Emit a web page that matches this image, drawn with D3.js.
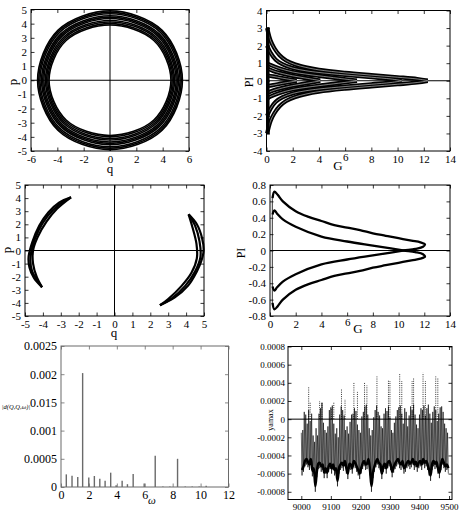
<!DOCTYPE html>
<html lang="en">
<head>
<meta charset="UTF-8">
<title>Phase portraits</title>
<script src="https://cdn.jsdelivr.net/npm/d3@7/dist/d3.min.js"></script>
<style>
    body{ margin:0; background:#fff; }
</style>
</head>
<body>
<svg id="main" width="460" height="510"></svg>
<script>
// ---------- panel 1 : (q,p) rings, one entry per ring (outer -> inner)
const ringQ  = [5.5, 5.41, 5.32, 5.2, 5.11, 5.02, 4.9, 4.81, 4.72, 4.63];
const ringP  = [4.9, 4.8, 4.7, 4.56, 4.46, 4.36, 4.22, 4.12, 4.0, 3.9];
const ringDq = [3.96, 3.9, 3.83, 3.74, 3.68, 3.61, 3.53, 3.46, 3.4, 3.33];
const ringDp = [3.53, 3.46, 3.38, 3.28, 3.21, 3.14, 3.04, 2.97, 2.88, 2.81];
const p1xTicks = [-6,-4,-2,0,2,4,6];
const p1xLabels = ["-6","-4","-2","0","2","4","6"];
const pqTicks = [-5,-4,-3,-2,-1,0,1,2,3,4,5];
const pqLabels = ["-5","-4","-3","-2","-1","0","1","2","3","4","5"];

// ---------- panel 2 : PI vs G, upper branches [G, PI] (lower half is the mirror)
const piBranchA = [[0.05,3.0],[0.3,2.3],[0.6,1.85],[1,1.45],[1.5,1.15],[2.2,0.92],[3,0.76],[4,0.62],[6,0.45],[8,0.32],[10,0.2],[11.5,0.1],[12.3,0.01]];
const piBranchB = [[0.05,2.0],[0.3,1.6],[0.7,1.2],[1.2,0.95],[2,0.72],[3,0.57],[4,0.47],[6,0.33],[8,0.2],[9.5,0.1],[10.3,0.01]];
const piBranchC = [[0.05,1.0],[0.3,0.9],[1,0.7],[2,0.5],[3,0.38],[4,0.28],[5.5,0.14],[6.9,0.01]];
const piBranchD = [[0.05,0.7],[0.5,0.56],[1,0.45],[2,0.28],[3,0.15],[4.1,0.01]];
const piBranchE = [[0.05,0.3],[0.5,0.25],[1.2,0.15],[2.3,0.01]];
const piEdge    = [[0.1,-3.05],[0.1,3.05]];
const gTicks = [0,2,4,6,8,10,12,14];
const gLabels = ["0","2","4","6","8","10","12","14"];
const pi2Ticks = [-4,-3,-2,-1,0,1,2,3,4];
const pi2Labels = ["-4","-3","-2","-1","0","1","2","3","4"];

// ---------- panel 3 : two crescents [q, p]
const crescLeftOuter  = [[-2.43,4.06],[-3.1,3.65],[-3.7,2.9],[-4.2,1.9],[-4.6,0.6],[-4.8,-0.5],[-4.75,-1.3],[-4.5,-2.1],[-4.05,-2.8]];
const crescLeftMid    = [[-2.43,4.06],[-3.15,3.45],[-3.75,2.6],[-4.25,1.5],[-4.6,0.2],[-4.7,-0.8],[-4.6,-1.6],[-4.05,-2.8]];
const crescLeftInner  = [[-2.43,4.06],[-3.2,3.2],[-3.8,2.2],[-4.3,1.0],[-4.55,0],[-4.55,-1.0],[-4.35,-2.0],[-4.05,-2.8]];
const crescRightOuter = [[4.14,2.76],[4.6,2.0],[4.9,0.9],[4.98,0],[4.85,-0.8],[4.6,-1.6],[4.1,-2.7],[3.35,-3.6],[2.54,-4.18]];
const crescRightMid   = [[4.14,2.76],[4.5,1.9],[4.75,0.7],[4.8,-0.5],[4.5,-1.6],[3.95,-2.7],[3.2,-3.65],[2.54,-4.18]];
const crescRightInner = [[4.14,2.76],[4.35,1.8],[4.58,0.5],[4.6,-0.6],[4.3,-1.7],[3.75,-2.7],[3.0,-3.7],[2.54,-4.18]];

// ---------- panel 4 : PI vs G, two crossing curves [G, PI]
const pi4CurveOne = [[0.2,0.64],[0.34,0.72],[0.6,0.68],[1,0.6],[2,0.48],[3,0.41],[4,0.36],[5,0.31],[6,0.28],[7,0.25],[8,0.21],[9,0.18],[10,0.15],[11,0.12],[11.7,0.1],[12.05,0.075],[11.9,0.045],[11.3,0.02],[10.4,0.0],[9.4,-0.025],[8,-0.06],[6,-0.11],[4,-0.17],[2,-0.29],[1,-0.38],[0.55,-0.45],[0.34,-0.49],[0.2,-0.44]];
const pi4CurveTwo = [[0.2,0.44],[0.34,0.49],[0.55,0.45],[1,0.38],[2,0.29],[4,0.17],[6,0.11],[8,0.06],[9.4,0.025],[10.4,0.0],[11.3,-0.02],[11.9,-0.045],[12.05,-0.075],[11.7,-0.1],[11,-0.12],[10,-0.15],[9,-0.18],[8,-0.21],[7,-0.25],[6,-0.28],[5,-0.31],[4,-0.36],[3,-0.41],[2,-0.48],[1,-0.6],[0.6,-0.68],[0.34,-0.72],[0.2,-0.64]];
const pi4Edge = [[0.18,0.66],[0.18,-0.66]];
const pi4Ticks = [-0.8,-0.6,-0.4,-0.2,0,0.2,0.4,0.6,0.8];
const pi4Labels = ["-0.8","-0.6","-0.4","-0.2","0","0.2","0.4","0.6","0.8"];

// ---------- panel 5 : spectrum lines
const omega = [0.38,0.79,1.2,1.55,1.99,2.39,2.78,3.16,3.56,3.95,4.38,4.76,5.17,5.96,6.75,7.3,7.8,8.35,8.9,9.4,9.9,10.4];
const specAmp = [0.000224,0.0002,0.000177,0.00202,0.00017,0.000195,0.000147,0.000112,0.000254,0.00003,0.000112,0.00005,0.00023,0.00006,0.000554,0.00001,0.00001,0.0005,0.00001,0.00001,0.00001,0.00002];
const wTicks = [0,2,4,6,8,10,12];
const wLabels = ["0","2","4","6","8","10","12"];
const specTicks = [0,0.0005,0.001,0.0015,0.002,0.0025];
const specLabels = ["0","0.0005","0.001","0.015","0.002","0.0025"];

// ---------- panel 6 : yamax time series, in units of 1e-4, one bin every 5 steps from 9000
const yamaxT0 = 9000, yamaxStep = 5;
const yamaxHi = [-1.5,-1.2,0.8,0.5,-0.5,1.0,-0.2,0.6,-1.8,-2.5,
                 -1.0,-1.8,0.6,1.2,1.8,-0.4,-1.2,-1.5,-0.8,1.0,
                 1.3,1.5,-0.5,-1.6,-1.0,-2.0,0.5,1.4,1.0,0.4,
                 -1.2,-0.8,-1.6,-0.3,0.5,0.6,1.2,0.9,-0.6,-1.2,
                 -1.5,0.3,0.8,1.4,1.6,0.5,-1.0,-1.8,-1.2,0.2,
                 1.0,1.5,0.8,0.4,-0.8,-1.0,0.6,1.2,0.9,1.4,
                 0.2,-1.2,-1.5,-0.4,0.3,1.0,1.3,1.5,0.6,-0.5,
                 1.2,0.8,-0.8,0.4,1.4,1.0,1.6,0.5,-0.6,-1.0,
                 0.5,1.2,1.0,1.5,0.4,1.2,1.6,0.6,-0.4,0.8,
                 1.4,1.0,-0.2,0.6,1.3,1.4,0.8,-0.5,-1.0,-1.5];
const yamaxLo = [-6.2,-5.8,-5.2,-5.0,-5.3,-5.6,-5.0,-6.3,-6.0,-8.0,
                 -6.4,-5.5,-5.4,-5.8,-5.6,-6.5,-6.0,-6.5,-5.8,-5.5,
                 -6.0,-5.6,-6.2,-6.0,-7.4,-6.0,-5.6,-5.4,-5.7,-5.2,
                 -6.0,-6.6,-5.5,-5.6,-6.0,-5.2,-5.4,-5.8,-6.2,-6.6,
                 -6.0,-5.5,-5.2,-5.6,-5.5,-5.0,-6.2,-8.0,-6.5,-5.8,
                 -5.3,-5.0,-5.4,-5.6,-6.6,-5.8,-5.5,-6.0,-5.4,-5.2,
                 -5.6,-6.4,-5.9,-5.5,-5.2,-5.0,-5.4,-5.6,-5.2,-6.0,
                 -5.8,-5.4,-5.2,-5.5,-5.3,-5.0,-5.6,-5.3,-5.8,-5.4,
                 -5.2,-5.6,-5.0,-5.4,-5.2,-5.6,-6.2,-6.8,-5.6,-5.2,
                 -5.5,-5.3,-6.0,-6.5,-5.6,-5.0,-5.4,-5.8,-5.6,-6.0];
const peakT = [9025,9030,9062,9070,9102,9110,9136,9148,9178,9190,9214,9222,9256,9295,9300,9333,9340,9375,9380,9412,9420,9455,9462];
const peakV = [3.6,1.8,2.0,1.9,1.1,1.9,3.3,2.2,4.1,3.0,4.0,3.7,4.7,4.3,4.2,5.0,4.2,4.2,4.5,5.1,4.2,4.7,4.5];
const tTicks = [9000,9100,9200,9300,9400,9500];
const tLabels = ["9000","9100","9200","9300","9400","9500"];
const yaTicks = [-8,-6,-4,-2,0,2,4,6,8];
const yaLabels = ["-0.0008","-0.0006","-0.0004","-0.0002","0","0.0002","0.0004","0.0006","0.0008"];

const SERIF = '"Liberation Serif","DejaVu Serif",serif';
const svg = d3.select("svg#main");

function makePanel(cfg){
    const box = cfg.box, ink = cfg.color || "#000", tk = 3.5;
    const x = d3.scaleLinear().domain(cfg.xDomain).range([box.l, box.r]);
    const y = d3.scaleLinear().domain(cfg.yDomain).range([box.b, box.t]);
    const g = svg.append("g");
    const plot = g.append("g");
    const bottom = g.append("g").attr("transform",`translate(0,${box.b})`)
        .call(d3.axisBottom(x).tickValues(cfg.xTicks).tickFormat((d,i)=>cfg.xLabels[i])
            .tickSizeInner(-tk).tickSizeOuter(0).tickPadding(cfg.xPad || 4));
    g.append("g").attr("transform",`translate(${box.l},0)`)
        .call(d3.axisLeft(y).tickValues(cfg.yTicks).tickFormat((d,i)=>cfg.yLabels[i])
            .tickSizeInner(-tk).tickSizeOuter(0).tickPadding(cfg.yPad || 4));
    g.append("g").attr("transform",`translate(0,${box.t})`)
        .call(d3.axisTop(x).tickValues(cfg.xTicks).tickFormat("").tickSizeInner(-tk).tickSizeOuter(0));
    g.append("g").attr("transform",`translate(${box.r},0)`)
        .call(d3.axisRight(y).tickValues(cfg.yTicks).tickFormat("").tickSizeInner(-tk).tickSizeOuter(0));
    g.selectAll(".domain").remove();
    g.selectAll("g").attr("font-family", SERIF).attr("font-size", cfg.fs);
    g.selectAll(".tick line").attr("stroke", ink).attr("stroke-width", 0.8);
    g.selectAll(".tick text").attr("fill", "#000");
    g.append("rect")
        .attr("x", box.l).attr("y", box.t)
        .attr("width", box.r - box.l).attr("height", box.b - box.t)
        .attr("fill", "none").attr("stroke", ink).attr("stroke-width", 1);
    return {g, plot, x, y, bottom};
}

function axisLabel(txt, px, py, size, rotate, italic){
    svg.append("text")
        .attr("transform", `translate(${px},${py})` + (rotate ? " rotate(-90)" : ""))
        .attr("text-anchor", "middle").attr("dominant-baseline", "middle")
        .attr("font-family", SERIF).attr("font-size", size)
        .attr("font-style", italic ? "italic" : null)
        .text(txt);
}

function zeroLines(P, horiz, vert){
    if (horiz) P.plot.append("line")
        .attr("x1", P.x.range()[0]).attr("x2", P.x.range()[1])
        .attr("y1", P.y(0)).attr("y2", P.y(0)).attr("stroke", "#000").attr("stroke-width", 1);
    if (vert) P.plot.append("line")
        .attr("x1", P.x(0)).attr("x2", P.x(0))
        .attr("y1", P.y.range()[0]).attr("y2", P.y.range()[1]).attr("stroke", "#000").attr("stroke-width", 1);
}

// ---------------- panel 1
const p1 = makePanel({box:{l:31, r:189, t:9.5, b:151}, xDomain:[-6,6], yDomain:[-5,5],
    xTicks:p1xTicks, xLabels:p1xLabels, yTicks:pqTicks, yLabels:pqLabels, fs:11});
const ringLine = d3.line().x(d=>p1.x(d[0])).y(d=>p1.y(d[1])).curve(d3.curveCatmullRomClosed.alpha(0.5));
const rings = ringQ.map((q,i)=>[[q,0],[ringDq[i],ringDp[i]],[0,ringP[i]],[-ringDq[i],ringDp[i]],
    [-q,0],[-ringDq[i],-ringDp[i]],[0,-ringP[i]],[ringDq[i],-ringDp[i]]]);
p1.plot.selectAll(".ring").data(rings).enter().append("path")
    .attr("class","ring").attr("d", ringLine)
    .attr("fill","none").attr("stroke","#000").attr("stroke-width",1.6);
zeroLines(p1, true, true);
axisLabel("q", 110, 170, 13);
axisLabel("p", 14, 82, 13, true);

// ---------------- panel 2
const p2 = makePanel({box:{l:266.5, r:450, t:10.5, b:151}, xDomain:[0,14], yDomain:[-4,4],
    xTicks:gTicks, xLabels:gLabels, yTicks:pi2Ticks, yLabels:pi2Labels, fs:11});
p2.bottom.selectAll(".tick text").filter(d=>d===6).attr("y", 2.5);
const p2Line = d3.line().x(d=>p2.x(d[0])).y(d=>p2.y(d[1])).curve(d3.curveCatmullRom.alpha(0.5));
const p2Upper = [piBranchA, piBranchB, piBranchC, piBranchD, piBranchE];
// lower half mirrors the upper one (PI -> -PI symmetry of the map)
const p2Curves = p2Upper.concat(p2Upper.map(c=>c.map(d=>[d[0], -d[1]])));
zeroLines(p2, true, false);
p2.plot.selectAll(".br").data(p2Curves).enter().append("path")
    .attr("class","br").attr("d", p2Line)
    .attr("fill","none").attr("stroke","#000").attr("stroke-width",4.2);
p2.plot.selectAll(".brw").data(p2Curves).enter().append("path")
    .attr("class","brw").attr("d", p2Line)
    .attr("fill","none").attr("stroke","#fff").attr("stroke-width",0.5);
p2.plot.append("path").attr("d", d3.line().x(d=>p2.x(d[0])).y(d=>p2.y(d[1]))(piEdge))
    .attr("stroke","#000").attr("stroke-width",3.5);
axisLabel("G", 338, 167, 13);
axisLabel("PI", 250, 82, 12, true);

// ---------------- panel 3
const p3 = makePanel({box:{l:25, r:204, t:185, b:316}, xDomain:[-5,5], yDomain:[-5,5],
    xTicks:pqTicks, xLabels:pqLabels, yTicks:pqTicks, yLabels:pqLabels, fs:11});
zeroLines(p3, true, true);
const p3Line = d3.line().x(d=>p3.x(d[0])).y(d=>p3.y(d[1])).curve(d3.curveCatmullRom.alpha(0.5));
p3.plot.selectAll(".cr").data([crescLeftOuter, crescLeftMid, crescLeftInner, crescRightOuter, crescRightMid, crescRightInner])
    .enter().append("path").attr("class","cr").attr("d", p3Line)
    .attr("fill","none").attr("stroke","#000").attr("stroke-width",2.2);
axisLabel("q", 114, 334, 13);
axisLabel("p", 8, 250, 13, true);

// ---------------- panel 4
const p4 = makePanel({box:{l:270, r:450, t:185, b:316}, xDomain:[0,14], yDomain:[-0.8,0.8],
    xTicks:gTicks, xLabels:gLabels, yTicks:pi4Ticks, yLabels:pi4Labels, fs:11});
p4.bottom.selectAll(".tick text").filter(d=>d===6).attr("y", 2.5);
zeroLines(p4, true, false);
const p4Line = d3.line().x(d=>p4.x(d[0])).y(d=>p4.y(d[1])).curve(d3.curveCatmullRom.alpha(0.5));
p4.plot.selectAll(".c4").data([pi4CurveOne, pi4CurveTwo]).enter().append("path")
    .attr("class","c4").attr("d", p4Line)
    .attr("fill","none").attr("stroke","#000").attr("stroke-width",2.3);
p4.plot.append("path").attr("d", d3.line().x(d=>p4.x(d[0])).y(d=>p4.y(d[1]))(pi4Edge))
    .attr("stroke","#000").attr("stroke-width",0.8);
axisLabel("G", 358, 330, 13);
axisLabel("PI", 242, 253, 12, true);

// ---------------- panel 5
const p5 = makePanel({box:{l:61, r:228.5, t:346, b:487}, xDomain:[0,12], yDomain:[0,0.0025],
    xTicks:wTicks, xLabels:wLabels, yTicks:specTicks, yLabels:specLabels, fs:12, color:"#6a6a6a", xPad:3});
p5.plot.selectAll(".bar").data(omega).enter().append("line")
    .attr("class","bar")
    .attr("x1", d=>p5.x(d)).attr("x2", d=>p5.x(d))
    .attr("y1", p5.y(0)).attr("y2", (d,i)=>p5.y(specAmp[i]))
    .attr("stroke","#6a6a6a").attr("stroke-width",1.4);
axisLabel("ω", 152, 501, 11, false, true);
axisLabel("|d(Q,Q,ω)|", 16, 408, 6.5, false, true);

// ---------------- panel 6
const p6 = makePanel({box:{l:288, r:452, t:346.5, b:499.5}, xDomain:[8955,9510], yDomain:[-8.85,8],
    xTicks:tTicks, xLabels:tLabels, yTicks:yaTicks, yLabels:yaLabels, fs:9, yPad:3});
const zig = [];
yamaxHi.forEach((h,i)=>{
    const t = yamaxT0 + i*yamaxStep;
    zig.push([t, h]);
    zig.push([t + yamaxStep/2, yamaxLo[i]]);
});
p6.plot.append("path")
    .attr("d", d3.line().x(d=>p6.x(d[0])).y(d=>p6.y(d[1]))(zig))
    .attr("fill","none").attr("stroke","#000").attr("stroke-width",0.6);
p6.plot.append("path")
    .attr("d", d3.line().x((d,i)=>p6.x(yamaxT0 + i*yamaxStep + yamaxStep/2)).y(d=>p6.y(d + 0.6)).curve(d3.curveMonotoneX)(yamaxLo))
    .attr("fill","none").attr("stroke","#000").attr("stroke-width",2.5);
p6.plot.selectAll(".pk").data(peakT).enter().append("line")
    .attr("class","pk")
    .attr("x1", d=>p6.x(d)).attr("x2", d=>p6.x(d))
    .attr("y1", p6.y(0)).attr("y2", (d,i)=>p6.y(peakV[i]))
    .attr("stroke","#000").attr("stroke-width",0.8).attr("stroke-dasharray","1,1.2");
zeroLines(p6, true, false);
axisLabel("yamax", 271, 420, 8, true);
</script>
</body>
</html>
